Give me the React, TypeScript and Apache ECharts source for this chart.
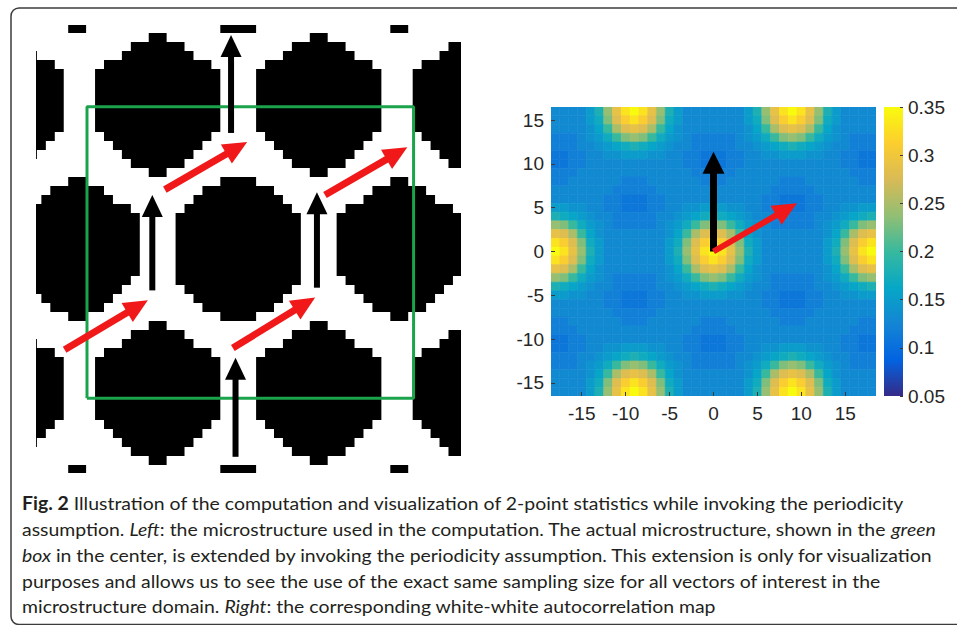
import React, { useEffect, useRef } from "react";
import * as echarts from "echarts";

// ---------------- Right panel: white-white autocorrelation map ----------------
// one row per y value (top to bottom), one character per x value;
// each character is a base-36 code giving the value in hundredths (b = 0.11, d = 0.13, z = 0.35)
const mapXs = [-18, -17, -16, -15, -14, -13, -12, -11, -10, -9, -8, -7, -6, -5, -4, -3, -2, -1, 0, 1, 2, 3, 4, 5, 6, 7, 8, 9, 10, 11, 12, 13, 14, 15, 16, 17, 18];
const mapYs = [16, 15, 14, 13, 12, 11, 10, 9, 8, 7, 6, 5, 4, 3, 2, 1, 0, -1, -2, -3, -4, -5, -6, -7, -8, -9, -10, -11, -12, -13, -14, -15, -16];
const mapRows = [
  "dddd" + "fiotxzxtoif" + "ddddddd" + "fiotxzxtoif" + "dddd", // 16
  "dddd" + "fhnsvxvsnhf" + "ddddddd" + "fhnsvxvsnhf" + "dddd", // 15
  "dddd" + "egkpstspkge" + "ddddddd" + "egkpstspkge" + "dddd", // 14
  "cccd" + "efhknonkhfe" + "dcccccd" + "efhknonkhfe" + "dccc", // 13
  "cccdd" + "efghihgfe" + "ddcccccdd" + "efghihgfe" + "ddccc", // 12
  "bbccdd" + "eefffee" + "ddccbbbccdd" + "eefffee" + "ddccbb", // 11
  "bbcc" + "ddddddddddd" + "ccbbbcc" + "ddddddddddd" + "ccbb", // 10
  "ccc" + "ddddddddddddd" + "ccccc" + "ddddddddddddd" + "ccc", // 9
  "cc" + "dddddd" + "ccc" + "dddddd" + "ccc" + "dddddd" + "ccc" + "dddddd" + "cc", // 8
  "ddddddd" + "ccccc" + "ddddddddddddd" + "ccccc" + "ddddddd", // 7
  "dddddd" + "ccbbbcc" + "ddddddddddd" + "ccbbbcc" + "dddddd", // 6
  "ffeedd" + "ccbbbcc" + "ddeefffeedd" + "ccbbbcc" + "ddeeff", // 5
  "ihgfedd" + "ccccc" + "ddefghihgfedd" + "ccccc" + "ddefghi", // 4
  "onkhfe" + "dcccccd" + "efhknonkhfe" + "dcccccd" + "efhkno", // 3
  "tspkge" + "ddddddd" + "egkpstspkge" + "ddddddd" + "egkpst", // 2
  "xvsnhf" + "ddddddd" + "fhnsvxvsnhf" + "ddddddd" + "fhnsvx", // 1
  "zxtoif" + "ddddddd" + "fiotxzxtoif" + "ddddddd" + "fiotxz", // 0
  "xvsnhf" + "ddddddd" + "fhnsvxvsnhf" + "ddddddd" + "fhnsvx", // -1
  "tspkge" + "ddddddd" + "egkpstspkge" + "ddddddd" + "egkpst", // -2
  "onkhfe" + "dcccccd" + "efhknonkhfe" + "dcccccd" + "efhkno", // -3
  "ihgfedd" + "ccccc" + "ddefghihgfedd" + "ccccc" + "ddefghi", // -4
  "ffeedd" + "ccbbbcc" + "ddeefffeedd" + "ccbbbcc" + "ddeeff", // -5
  "dddddd" + "ccbbbcc" + "ddddddddddd" + "ccbbbcc" + "dddddd", // -6
  "ddddddd" + "ccccc" + "ddddddddddddd" + "ccccc" + "ddddddd", // -7
  "cc" + "dddddd" + "ccc" + "dddddd" + "ccc" + "dddddd" + "ccc" + "dddddd" + "cc", // -8
  "ccc" + "ddddddddddddd" + "ccccc" + "ddddddddddddd" + "ccc", // -9
  "bbcc" + "ddddddddddd" + "ccbbbcc" + "ddddddddddd" + "ccbb", // -10
  "bbccdd" + "eefffee" + "ddccbbbccdd" + "eefffee" + "ddccbb", // -11
  "cccdd" + "efghihgfe" + "ddcccccdd" + "efghihgfe" + "ddccc", // -12
  "cccd" + "efhknonkhfe" + "dcccccd" + "efhknonkhfe" + "dccc", // -13
  "dddd" + "egkpstspkge" + "ddddddd" + "egkpstspkge" + "dddd", // -14
  "dddd" + "fhnsvxvsnhf" + "ddddddd" + "fhnsvxvsnhf" + "dddd", // -15
  "dddd" + "fiotxzxtoif" + "ddddddd" + "fiotxzxtoif" + "dddd", // -16
];
const mapTicks = [-15, -10, -5, 0, 5, 10, 15];
const colorTicks = [0.05, 0.1, 0.15, 0.2, 0.25, 0.3, 0.35];
const mapBlackArrows = [[0, 0, 0, 11.4]];
const mapRedArrows = [[0, 0, 9.5, 5.5]];

// ---------------- Left panel: periodic microstructure (cell units) ----------------
// [x, y, shape] shape 1 = wide-topped particle, 0 = narrow-topped particle
const particles = [
  [-26.5, 16, 0], [-9, 16, 0], [9, 16, 0], [26.5, 16, 0],
  [-18, 0, 0], [0, 0, 1], [18, 0, 0],
  [-26.5, -16, 0], [-9, -16, 0], [9, -16, 0], [26.5, -16, 0],
  [-18, 32, 0], [0, 32, 1], [18, 32, 0],
  [-18, -32, 0], [0, -32, 1], [18, -32, 0],
];
const leftBlackArrows = [
  [-0.8, 12.9, -0.8, 23.8],
  [-9.6, -4.6, -9.6, 6.0],
  [8.8, -4.3, 8.8, 6.3],
  [-0.3, -23.1, -0.3, -12.1],
];
const leftRedArrows = [
  [-19.4, -11.2, -10.1, -5.7],
  [-0.6, -11.0, 8.6, -5.4],
  [-8.2, 6.6, 1.0, 11.9],
  [9.7, 6.0, 18.9, 11.3],
];
const boxX = [-16.9, 19.6];
const boxY = [-16.6, 15.8];

// ---------------- Caption ----------------
const captionLines = [
  "{b|Fig. 2} Illustration of the computation and visualization of 2-point statistics while invoking the periodicity",
  "assumption. {i|Left}: the microstructure used in the computation. The actual microstructure, shown in the {i|green}",
  "{i|box} in the center, is extended by invoking the periodicity assumption. This extension is only for visualization",
  "purposes and allows us to see the use of the exact same sampling size for all vectors of interest in the",
  "microstructure domain. {i|Right}: the corresponding white-white autocorrelation map",
];

const PARULA = ["#352a87", "#0363e1", "#1485d4", "#06a7c6", "#38b99e", "#92bf73", "#d9ba56", "#fcce2e", "#f9fb0e"];
const SHAPES: Record<number, number[]> = {
  1: [4, 8, 10, 12, 14, 14, 14, 14, 14, 14, 14, 14, 12, 10, 8, 4],
  0: [2, 6, 8, 12, 14, 14, 14, 14, 14, 14, 14, 12, 10, 8, 6, 2],
};
const TICK_FONT = "'Liberation Sans', Arial, sans-serif";
const CAP_FONT = "Lato, 'Open Sans', sans-serif";
const CAP_SIZE = 18;

function arrowRenderer(color: string, shaft: number, headW: number, headL: number) {
  return (_p: any, api: any) => {
    const p1 = api.coord([api.value(0), api.value(1)]);
    const p2 = api.coord([api.value(2), api.value(3)]);
    const dx = p2[0] - p1[0];
    const dy = p2[1] - p1[1];
    const len = Math.hypot(dx, dy) || 1;
    const ux = dx / len;
    const uy = dy / len;
    const bx = p2[0] - ux * headL;
    const by = p2[1] - uy * headL;
    const px = -uy;
    const py = ux;
    return {
      type: "group",
      children: [
        {
          type: "line",
          shape: { x1: p1[0], y1: p1[1], x2: bx + ux * 2, y2: by + uy * 2 },
          style: { stroke: color, lineWidth: shaft, lineCap: "butt" },
        },
        {
          type: "polygon",
          shape: {
            points: [
              [p2[0], p2[1]],
              [bx + (px * headW) / 2, by + (py * headW) / 2],
              [bx - (px * headW) / 2, by - (py * headW) / 2],
            ],
          },
          style: { fill: color },
        },
      ],
    };
  };
}

function measure(font: string, text: string) {
  const ctx = document.createElement("canvas").getContext("2d");
  if (!ctx) return text.length * 8;
  ctx.font = font;
  return ctx.measureText(text).width;
}

export default function App() {
  const ref = useRef<HTMLDivElement>(null);

  useEffect(() => {
    if (!ref.current) return;
    const chart = echarts.init(ref.current, undefined, { renderer: "svg" });

    const heatData: number[][] = [];
    mapRows.forEach((row, i) => {
      for (let j = 0; j < mapXs.length; j++) {
        const ch = row[j] ?? "d";
        heatData.push([mapXs[j], mapYs[i], parseInt(ch, 36) / 100]);
      }
    });

    // caption horizontal scale to match the condensed typeface of the figure
    const plain = captionLines[0].replace("{b|Fig. 2}", "");
    const w1 =
      measure(`bold ${CAP_SIZE}px ${CAP_FONT}`, "Fig. 2") + measure(`${CAP_SIZE}px ${CAP_FONT}`, plain);
    const sx = 883 / w1;

    const capY = [503, 529, 555, 581, 606];
    const captionGraphics = captionLines.map((t, i) => ({
      type: "text",
      x: 22,
      y: capY[i],
      scaleX: sx,
      silent: true,
      style: {
        text: t,
        fontFamily: CAP_FONT,
        fontSize: CAP_SIZE,
        fill: "#231f20",
        verticalAlign: "middle",
        rich: {
          b: { fontFamily: CAP_FONT, fontSize: CAP_SIZE, fontWeight: "bold", fill: "#231f20" },
          i: { fontFamily: CAP_FONT, fontSize: CAP_SIZE, fontStyle: "italic", fill: "#231f20" },
        },
      },
    }));

    const hidden = { show: false };
    const option: any = {
      animation: false,
      backgroundColor: "#ffffff",
      grid: [
        { left: 36, top: 25, width: 425, height: 448 },
        { left: 551, top: 107, width: 325, height: 289 },
        { left: 884, top: 107, width: 19, height: 289 },
      ],
      xAxis: [
        { gridIndex: 0, type: "value", min: -22.6, max: 24.9, ...hidden },
        {
          gridIndex: 1,
          type: "value",
          min: -18.5,
          max: 18.5,
          z: 10,
          axisLine: { show: false, onZero: false },
          splitLine: { show: false },
          axisTick: { show: true, inside: true, length: 4, customValues: mapTicks, lineStyle: { color: "#3a3a3a" } },
          axisLabel: { customValues: mapTicks, fontSize: 19, fontFamily: TICK_FONT, color: "#262626", margin: 8 },
        },
        { gridIndex: 2, type: "value", min: 0, max: 1, ...hidden },
      ],
      yAxis: [
        { gridIndex: 0, type: "value", min: -24.9, max: 24.9, ...hidden },
        {
          gridIndex: 1,
          type: "value",
          min: -16.5,
          max: 16.5,
          z: 10,
          axisLine: { show: false, onZero: false },
          splitLine: { show: false },
          axisTick: { show: true, inside: true, length: 4, customValues: mapTicks, lineStyle: { color: "#3a3a3a" } },
          axisLabel: { customValues: mapTicks, fontSize: 19, fontFamily: TICK_FONT, color: "#262626", margin: 7 },
        },
        {
          gridIndex: 2,
          type: "value",
          position: "right",
          min: colorTicks[0],
          max: colorTicks[colorTicks.length - 1],
          interval: 0.05,
          z: 10,
          axisLine: { show: false, onZero: false },
          splitLine: { show: false },
          axisTick: { show: true, inside: true, length: 3, lineStyle: { color: "#3a3a3a" } },
          axisLabel: {
            fontSize: 19,
            fontFamily: TICK_FONT,
            color: "#262626",
            margin: 5,
            formatter: (v: number) => String(+v.toFixed(2)),
          },
        },
      ],
      visualMap: {
        type: "continuous",
        show: false,
        min: colorTicks[0],
        max: colorTicks[colorTicks.length - 1],
        dimension: 2,
        seriesIndex: 4,
        inRange: { color: PARULA },
      },
      series: [
        {
          type: "custom",
          xAxisIndex: 0,
          yAxisIndex: 0,
          clip: true,
          z: 2,
          silent: true,
          data: particles,
          renderItem: (_p: any, api: any) => {
            const c = api.coord([api.value(0), api.value(1)]);
            const s = api.size([1, 1]);
            const rows = SHAPES[api.value(2)] || SHAPES[0];
            const top = c[1] - (rows.length / 2) * s[1];
            const right: number[][] = [];
            const left: number[][] = [];
            rows.forEach((w, i) => {
              const y0 = top + i * s[1];
              const y1 = y0 + s[1];
              const hw = (w / 2) * s[0];
              right.push([c[0] + hw, y0], [c[0] + hw, y1]);
              left.push([c[0] - hw, y0], [c[0] - hw, y1]);
            });
            return {
              type: "polygon",
              shape: { points: right.concat(left.reverse()) },
              style: { fill: "#000000" },
            };
          },
        },
        {
          type: "line",
          xAxisIndex: 0,
          yAxisIndex: 0,
          z: 3,
          symbol: "none",
          showSymbol: false,
          silent: true,
          data: [
            [boxX[0], boxY[0]],
            [boxX[1], boxY[0]],
            [boxX[1], boxY[1]],
            [boxX[0], boxY[1]],
            [boxX[0], boxY[0]],
          ],
          lineStyle: { color: "#1ba34c", width: 3 },
        },
        {
          type: "custom",
          xAxisIndex: 0,
          yAxisIndex: 0,
          z: 4,
          silent: true,
          data: leftBlackArrows,
          renderItem: arrowRenderer("#000000", 6, 21, 22),
        },
        {
          type: "custom",
          xAxisIndex: 0,
          yAxisIndex: 0,
          z: 4,
          silent: true,
          data: leftRedArrows,
          renderItem: arrowRenderer("#f01818", 7, 22, 24),
        },
        {
          type: "custom",
          xAxisIndex: 1,
          yAxisIndex: 1,
          clip: true,
          z: 2,
          silent: true,
          data: heatData,
          renderItem: (_p: any, api: any) => {
            const c = api.coord([api.value(0) - 0.5, api.value(1) + 0.5]);
            const s = api.size([1, 1]);
            const col = api.visual("color");
            return {
              type: "rect",
              shape: { x: c[0], y: c[1], width: s[0], height: s[1] },
              style: { fill: col, stroke: col, lineWidth: 0.6 },
            };
          },
        },
        {
          type: "custom",
          xAxisIndex: 1,
          yAxisIndex: 1,
          z: 4,
          silent: true,
          data: mapBlackArrows,
          renderItem: arrowRenderer("#000000", 7, 22, 22),
        },
        {
          type: "custom",
          xAxisIndex: 1,
          yAxisIndex: 1,
          z: 4,
          silent: true,
          data: mapRedArrows,
          renderItem: arrowRenderer("#f01818", 6, 22, 24),
        },
        {
          type: "custom",
          xAxisIndex: 2,
          yAxisIndex: 2,
          z: 2,
          silent: true,
          data: [[0, colorTicks[0], colorTicks[colorTicks.length - 1]]],
          renderItem: (_p: any, api: any) => {
            const a = api.coord([0, api.value(2)]);
            const b = api.coord([1, api.value(1)]);
            return {
              type: "rect",
              shape: { x: a[0], y: a[1], width: b[0] - a[0], height: b[1] - a[1] },
              style: {
                fill: {
                  type: "linear",
                  x: 0,
                  y: 1,
                  x2: 0,
                  y2: 0,
                  colorStops: PARULA.map((c, i) => ({ offset: i / (PARULA.length - 1), color: c })),
                },
              },
            };
          },
        },
      ],
      graphic: [
        {
          type: "rect",
          silent: true,
          shape: { x: 11, y: 8, width: 1000, height: 616.5, r: 8 },
          style: { fill: "none", stroke: "#3c3c3c", lineWidth: 1.5 },
        },
        ...captionGraphics,
      ],
    };

    chart.setOption(option);
    return () => chart.dispose();
  }, []);

  return (
    <div
      ref={ref}
      style={{ position: "absolute", left: 0, top: 0, width: 957, height: 625, background: "#fff" }}
    />
  );
}
